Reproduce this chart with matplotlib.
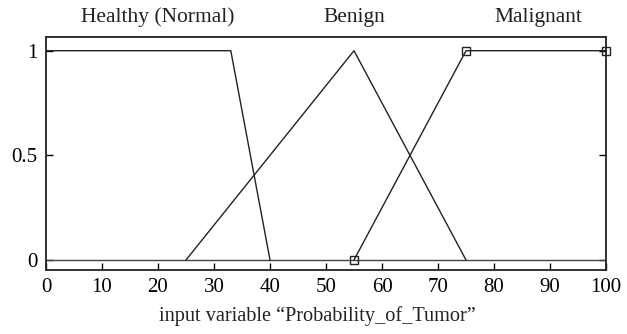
import matplotlib
matplotlib.use("Agg")
import matplotlib.pyplot as plt
import numpy as np

plt.rcParams['font.family'] = ['Liberation Serif', 'DejaVu Serif']

mf_names = ["Healthy (Normal)", "Benign", "Malignant"]
healthy_x = [0, 33, 40]
healthy_y = [1, 1, 0]
benign_x = [25, 55, 75]
benign_y = [0, 1, 0]
malignant_x = [55, 75, 100]
malignant_y = [0, 1, 1]
label_x = [20, 55, 88]
x_ticks = [0, 10, 20, 30, 40, 50, 60, 70, 80, 90, 100]
y_ticks = [0, 0.5, 1]
y_ticklabels = ["0", "0.5", "1"]
xlabel = "input variable \u201cProbability_of_Tumor\u201d"

fig = plt.figure(figsize=(6.27, 3.34), dpi=100)
ax = fig.add_axes([46/627, 64/334, 560/627, 233.3/334])

lc = '#222222'
ax.plot([0, 100], [0, 0], color='#444444', lw=1.0)
ax.plot(healthy_x, healthy_y, color=lc, lw=1.0)
ax.plot(benign_x, benign_y, color=lc, lw=1.0)
ax.plot(malignant_x, malignant_y, color=lc, lw=1.0, marker='s', ms=6,
        mfc='none', mec=lc, mew=1.0, clip_on=False)

for name, lx in zip(mf_names, label_x):
    ax.text(lx, 1.137, name, ha='center', va='baseline', fontsize=15.5, color='#222222')

ax.set_xlim(0, 100)
ax.set_ylim(-0.048, 1.067)
ax.set_xticks(x_ticks)
ax.set_yticks(y_ticks)
ax.set_yticklabels(y_ticklabels)
ax.tick_params(axis='x', direction='in', length=5, width=1, labelsize=15, pad=6, top=False)
ax.tick_params(axis='y', direction='in', length=5, width=1, labelsize=15, pad=6, right=True)
for s in ax.spines.values():
    s.set_linewidth(1.3)
    s.set_color('#222222')
ax.set_xlabel(xlabel, fontsize=14.6, color='#222222')
ax.xaxis.set_label_coords((317 - 46) / 560, -0.155)

fig.savefig("out.png", dpi=100)
